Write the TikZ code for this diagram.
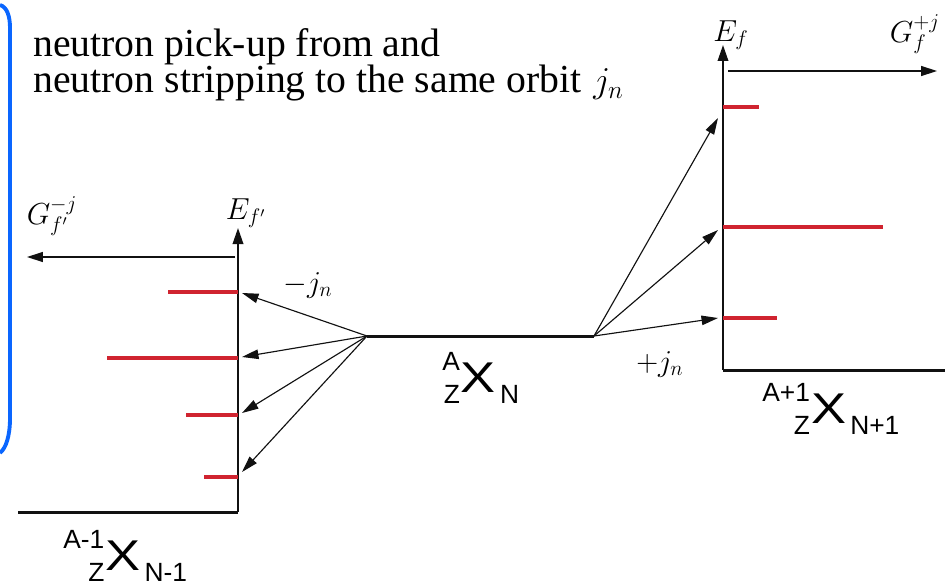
\documentclass[tikz,border=0pt]{standalone}
\usepackage{graphicx}
\usepackage{fontspec}
\setmainfont{Liberation Serif}
\newfontfamily\nucfont{Liberation Sans}
\usetikzlibrary{arrows.meta}
\definecolor{levelred}{HTML}{D02430}
\definecolor{framblue}{HTML}{0A66FF}
\definecolor{inkdark}{HTML}{111111}

% nucleus symbol: mass number over charge number, then X and neutron number
\newlength{\isowd}
\newcommand{\isotope}[3]{%
  \begingroup\fontsize{15}{15}\selectfont
  \settowidth{\isowd}{#1}%
  \makebox[\isowd][r]{\raisebox{12pt}{#1}}%
  \kern-\isowd\makebox[\isowd][r]{\raisebox{-6.3pt}{#2}}%
  \endgroup
  \kern0.6pt\scalebox{1.22}[1]{X}\kern2.4pt%
  {\fontsize{15}{15}\selectfont\raisebox{-6.3pt}{#3}}}

\begin{document}
\begin{tikzpicture}[
    x=0.02cm, y=-0.02cm,
    % ── Line styles ──────────────────────────────────────────────────────
    axis/.style={
        -{Triangle[length=3.2mm, width=2.1mm]},
        line width=1.1pt, color=inkdark
    },
    gaxis/.style={
        -{Triangle[length=3.2mm, width=2mm]},
        line width=0.75pt, color=inkdark
    },
    ground/.style={
        line width=1.7pt, color=inkdark
    },
    level/.style={
        line width=1.9pt, color=levelred
    },
    fan/.style={
        -{Triangle[length=3.3mm, width=1.9mm]},
        line width=0.65pt, color=inkdark
    },
    bracket/.style={
        line width=2.2pt, color=framblue
    },
    % ── Text styles ──────────────────────────────────────────────────────
    titletext/.style={
        font=\fontsize{22.6}{20.8}\selectfont,
        align=left, inner sep=0pt
    },
    mathlabel/.style={
        font=\fontsize{16.5}{17}\selectfont, inner sep=0pt
    },
    nuclabel/.style={
        font=\fontsize{24.5}{26}\selectfont\nucfont,
        inner sep=0pt, anchor=base west
    }
]
\useasboundingbox (0,0) rectangle (945,585);

% ═══════════════════════════════════════════════════════════════════════════
% Blue frame edge on the left
% ═══════════════════════════════════════════════════════════════════════════
\draw[bracket] (0,5) .. controls (7,7) and (10,16) .. (10,28)
    -- (10,418) .. controls (10,436) and (6,448) .. (0,453);

% ═══════════════════════════════════════════════════════════════════════════
% Title
% ═══════════════════════════════════════════════════════════════════════════
\node[titletext, anchor=north west] (title) at (33,28)
    {neutron pick-up from and\\neutron stripping to the same orbit\hspace{0.3em}$j_n$};

% ═══════════════════════════════════════════════════════════════════════════
% Initial nucleus in the middle
% ═══════════════════════════════════════════════════════════════════════════
\coordinate (pickup) at (367,336);
\coordinate (strip)  at (594,336);
\draw[ground] (pickup) -- (strip);
\node[nuclabel] (nucmid) at (442,392) {\isotope{A}{Z}{N}};

% ═══════════════════════════════════════════════════════════════════════════
% Left: A-1 nucleus (pick-up)
% ═══════════════════════════════════════════════════════════════════════════
\coordinate (lorigin) at (238,512);
\coordinate (ltop)    at (238,228);
\draw[ground] (18,512) -- (lorigin);
\draw[axis] (lorigin) -- (ltop);
\node[mathlabel] (lenergy) at (246,213) {$E_{f'}$};

\coordinate (lgstart) at (235,257);
\coordinate (lgend)   at (27,257);
\draw[gaxis] (lgstart) -- (lgend);
\node[mathlabel] (lstrength) at (52,216) {$G^{-j}_{f'}$};

% hole levels: level height / left end / arrow tip height
\foreach \y/\x/\t [count=\i] in {292/168/293, 358/107/357, 415/186/413, 477/204/472} {
    \coordinate (hole\i) at (238,\y);
    \coordinate (holetip\i) at (242,\t);
    \draw[level] (\x,\y) -- (hole\i);
    \draw[fan] (pickup) -- (holetip\i);
}
\node[mathlabel] (minusj) at (308,285) {$-j_n$};

\node[nuclabel] (nucleft) at (63,570) {\isotope{A-1}{Z}{N-1}};

% ═══════════════════════════════════════════════════════════════════════════
% Right: A+1 nucleus (stripping)
% ═══════════════════════════════════════════════════════════════════════════
\coordinate (rorigin) at (723,370);
\coordinate (rtop)    at (723,45);
\draw[ground] (rorigin) -- (945,370);
\draw[axis] (rorigin) -- (rtop);
\node[mathlabel] (renergy) at (731,35) {$E_f$};

\coordinate (rgstart) at (728,71);
\coordinate (rgend)   at (937,71);
\draw[gaxis] (rgstart) -- (rgend);
\node[mathlabel] (rstrength) at (915,34) {$G^{+j}_{f}$};

% particle levels: level height / right end / arrow tip height
\foreach \y/\x/\t [count=\i] in {107/759/118, 227/883/230, 318/777/318} {
    \coordinate (part\i) at (723,\y);
    \coordinate (parttip\i) at (718,\t);
    \draw[level] (part\i) -- (\x,\y);
    \draw[fan] (strip) -- (parttip\i);
}
\node[mathlabel] (plusj) at (660,364) {$+j_n$};

\node[nuclabel] (nucright) at (762,423) {\isotope{A+1}{Z}{N+1}};

\end{tikzpicture}
\end{document}
